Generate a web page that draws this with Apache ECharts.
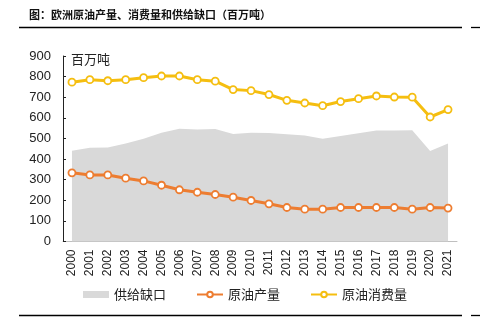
<!DOCTYPE html>
<html>
<head>
<meta charset="utf-8">
<script src="https://cdn.jsdelivr.net/npm/echarts@6/dist/echarts.min.js"></script>
<style>
  html, body { margin: 0; padding: 0; background: #fff; }
  #chart { width: 480px; height: 326px; }
</style>
</head>
<body>
<div id="chart"></div>
<script>
// 欧洲原油产量、消费量和供给缺口（百万吨）
const years = ['2000','2001','2002','2003','2004','2005','2006','2007','2008','2009','2010',
               '2011','2012','2013','2014','2015','2016','2017','2018','2019','2020','2021'];
const supplyGap   = [440, 455, 456, 475, 498, 528, 547, 543, 546, 522, 528,
                     527, 520, 514, 499, 512, 525, 538, 538, 540, 439, 475];
const production  = [333, 323, 323, 307, 294, 273, 251, 239, 228, 215, 199,
                     183, 165, 157, 157, 165, 165, 165, 165, 157, 165, 162];
const consumption = [773, 785, 780, 785, 795, 803, 803, 785, 778, 737, 732,
                     713, 685, 672, 659, 679, 693, 706, 701, 700, 604, 640];
const yTicks = { min: 0, max: 900, interval: 100 };

const FONT = '"Liberation Sans", Arial, "Noto Sans CJK SC", sans-serif';
const CJK = '"Noto Sans CJK SC", "Liberation Sans", sans-serif';
const GRAY = '#d9d9d9', ORANGE = '#ed7d31', YELLOW = '#f5be10';

const chart = echarts.init(document.getElementById('chart'), null, { renderer: 'canvas' });

const lineSeries = (name, data, color) => ({
  name, type: 'line', data,
  symbol: 'circle', symbolSize: 7, showSymbol: true,
  lineStyle: { color, width: 3 },
  itemStyle: { color: '#fff', borderColor: color, borderWidth: 1.8 },
  z: 3
});

chart.setOption({
  animation: false,
  textStyle: { fontFamily: FONT },
  graphic: [
    { type: 'text', left: 29, top: 9, style: { text: '图：欧洲原油产量、消费量和供给缺口（百万吨）',
      font: 'bold 11px ' + CJK, fill: '#111' } },
    { type: 'line', shape: { x1: 19, y1: 27.5, x2: 462, y2: 27.5 }, style: { stroke: '#000', lineWidth: 1.3 } },
    { type: 'line', shape: { x1: 471, y1: 27.5, x2: 480, y2: 27.5 }, style: { stroke: '#000', lineWidth: 1.3 } },
    { type: 'line', shape: { x1: 19, y1: 315.5, x2: 462, y2: 315.5 }, style: { stroke: '#000', lineWidth: 1.3 } },
    { type: 'line', shape: { x1: 471, y1: 315.5, x2: 480, y2: 315.5 }, style: { stroke: '#000', lineWidth: 1.3 } },
    { type: 'text', left: 71, top: 53, style: { text: '百万吨', font: '13px ' + CJK, fill: '#222' } }
  ],
  grid: { left: 63, right: 23, top: 56, bottom: 84.5, containLabel: false },
  legend: {
    bottom: 20, left: 78,
    itemGap: 30, itemWidth: 26, itemHeight: 7,
    textStyle: { fontFamily: CJK, fontSize: 13, color: '#222' },
    data: [
      { name: '供给缺口', icon: 'rect', itemStyle: { color: GRAY } },
      { name: '原油产量' },
      { name: '原油消费量' }
    ]
  },
  xAxis: {
    type: 'category', data: years, boundaryGap: true,
    axisLine: { lineStyle: { color: '#bfbfbf', width: 1 } },
    axisTick: { show: false },
    axisLabel: { rotate: 90, fontSize: 12, color: '#222', margin: 8, interval: 0 }
  },
  yAxis: {
    type: 'value', min: yTicks.min, max: yTicks.max, interval: yTicks.interval,
    splitLine: { show: false },
    axisLine: { show: true, lineStyle: { color: '#222', width: 1 } },
    axisTick: { show: true, inside: true, length: 3, lineStyle: { color: '#222' } },
    axisLabel: { fontSize: 13, color: '#222', margin: 12 }
  },
  series: [
    {
      name: '供给缺口', type: 'line', data: supplyGap,
      symbol: 'none', lineStyle: { width: 0 },
      itemStyle: { color: GRAY },
      areaStyle: { color: GRAY, opacity: 1 },
      z: 1
    },
    lineSeries('原油产量', production, ORANGE),
    lineSeries('原油消费量', consumption, YELLOW)
  ]
});
</script>
</body>
</html>
